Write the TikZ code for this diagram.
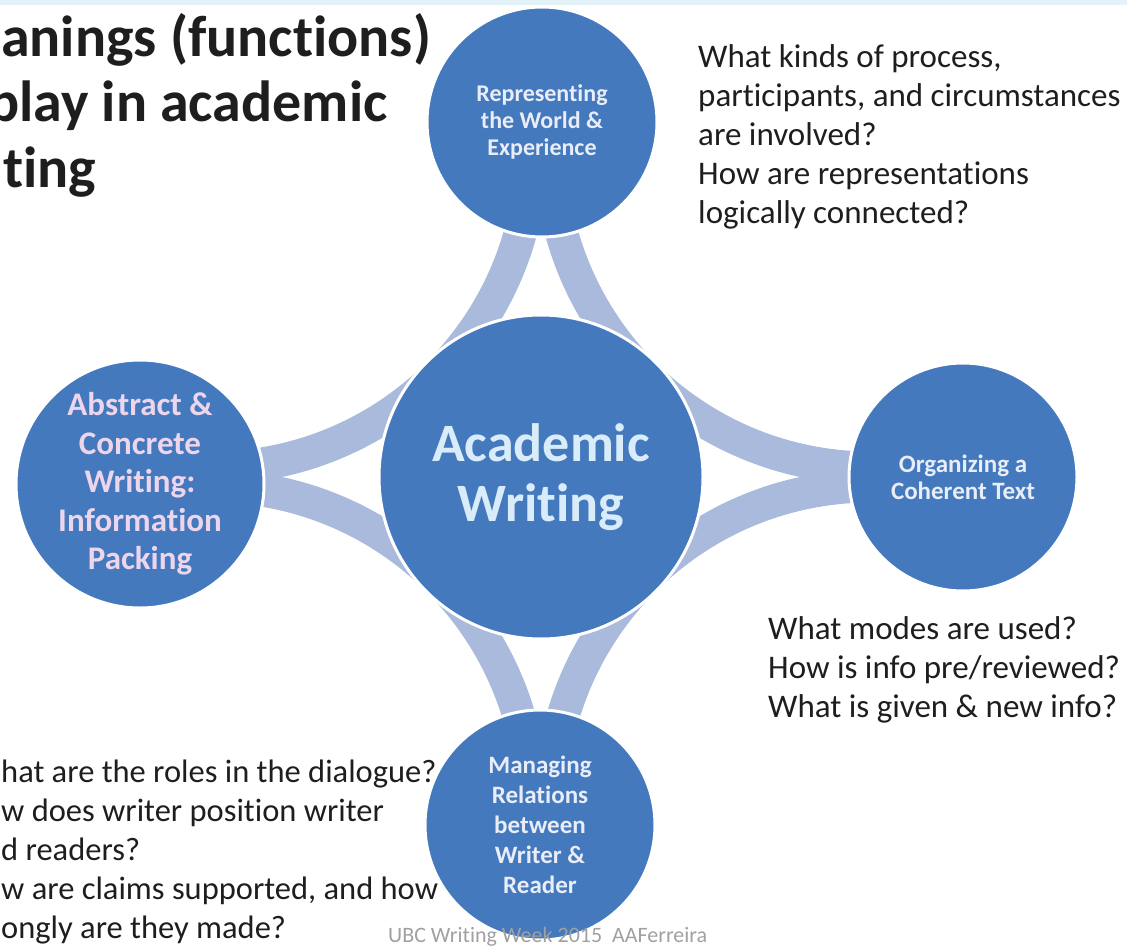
\documentclass[tikz,border=0pt]{standalone}
\usepackage{fontspec}
\setmainfont{Carlito}[Ligatures=CommonOff]
\usetikzlibrary{calc}
\definecolor{bubblue}{RGB}{69,121,190}
\definecolor{bandblue}{RGB}{170,186,220}
\definecolor{inkgray}{RGB}{30,30,30}
\definecolor{footgray}{RGB}{160,160,160}
\definecolor{stripblue}{RGB}{227,241,249}
\definecolor{paleblue}{RGB}{216,236,249}
\definecolor{palewhite}{RGB}{232,237,247}
\definecolor{palepink}{RGB}{237,213,236}
\begin{document}
\begin{tikzpicture}[x=1pt,y=-1pt,
  bub/.style={circle, fill=bubblue, draw=white, line width=3pt, inner sep=0pt,
    align=center, text=palewhite},
  band/.style={draw=bandblue, line width=33pt},
  ask/.style={anchor=base west, align=left, inner sep=0pt, text=inkgray,
    font=\fontsize{33}{39}\selectfont},
  heading/.style={anchor=base west, inner sep=0pt, text=inkgray,
    font=\fontsize{58}{65}\selectfont\bfseries}
]
\useasboundingbox (0,0) rectangle (1127,947);
\fill[stripblue] (0,0) rectangle (1127,5);

% heading
\node[heading] (h1) at (1,57) {anings (functions)};
\node[heading] (h2) at (-12,122) {play in academic};
\node[heading] (h3) at (3,187) {ting};

% central bubble position; the four concave bands are arcs around it
\coordinate (c0) at (541,477);
\draw[band] ($(c0)+(-330,-330)$) ++(321,0)  arc[start angle=0,   end angle=90,  radius=321];
\draw[band] ($(c0)+(330,-330)$)  ++(-321,0) arc[start angle=180, end angle=90,  radius=321];
\draw[band] ($(c0)+(-330,330)$)  ++(0,-321) arc[start angle=-90, end angle=0,   radius=321];
\draw[band] ($(c0)+(330,330)$)   ++(-321,0) arc[start angle=180, end angle=270, radius=321];

% outer bubbles
\node[bub, minimum size=230pt, font=\fontsize{24}{27}\selectfont\bfseries] (top) at (542,122)
  {Representing\\the World \&\\Experience};
\node[bub, minimum size=248pt, text=palepink, font=\fontsize{33}{38.5}\selectfont\bfseries] (left) at (140,484)
  {Abstract \&\\Concrete\\Writing:\\Information\\Packing};
\node[bub, minimum size=228pt, font=\fontsize{25}{27}\selectfont\bfseries] (right) at (963,477)
  {Organizing a\\Coherent Text};
\node[bub, minimum size=230pt, font=\fontsize{25}{30}\selectfont\bfseries] (bottom) at (540,825)
  {Managing\\Relations\\between\\Writer \&\\Reader};

% central bubble
\node[bub, minimum size=324pt, text=paleblue, font=\fontsize{54}{60}\selectfont\bfseries] (core) at (c0)
  {Academic\\Writing};

% guiding questions (anchored at the baseline of their last line)
\node[ask] (qTop) at (698,223) {What kinds of process,\\participants, and circumstances\\are involved?\\How are representations\\logically connected?};
\node[ask] (qRight) at (768,717) {What modes are used?\\How is info pre/reviewed?\\What is given \& new info?};
\node[ask, font=\fontsize{32.5}{39}\selectfont] (qLeft) at (1,938) {hat are the roles in the dialogue?\\w does writer position writer\\d readers?\\w are claims supported, and how\\ongly are they made?};

% footer
\node[anchor=base west, inner sep=0pt, text=footgray, font=\fontsize{22}{24}\selectfont] (foot) at (388,942)
  {UBC Writing Week 2015~~AAFerreira};
\end{tikzpicture}
\end{document}
